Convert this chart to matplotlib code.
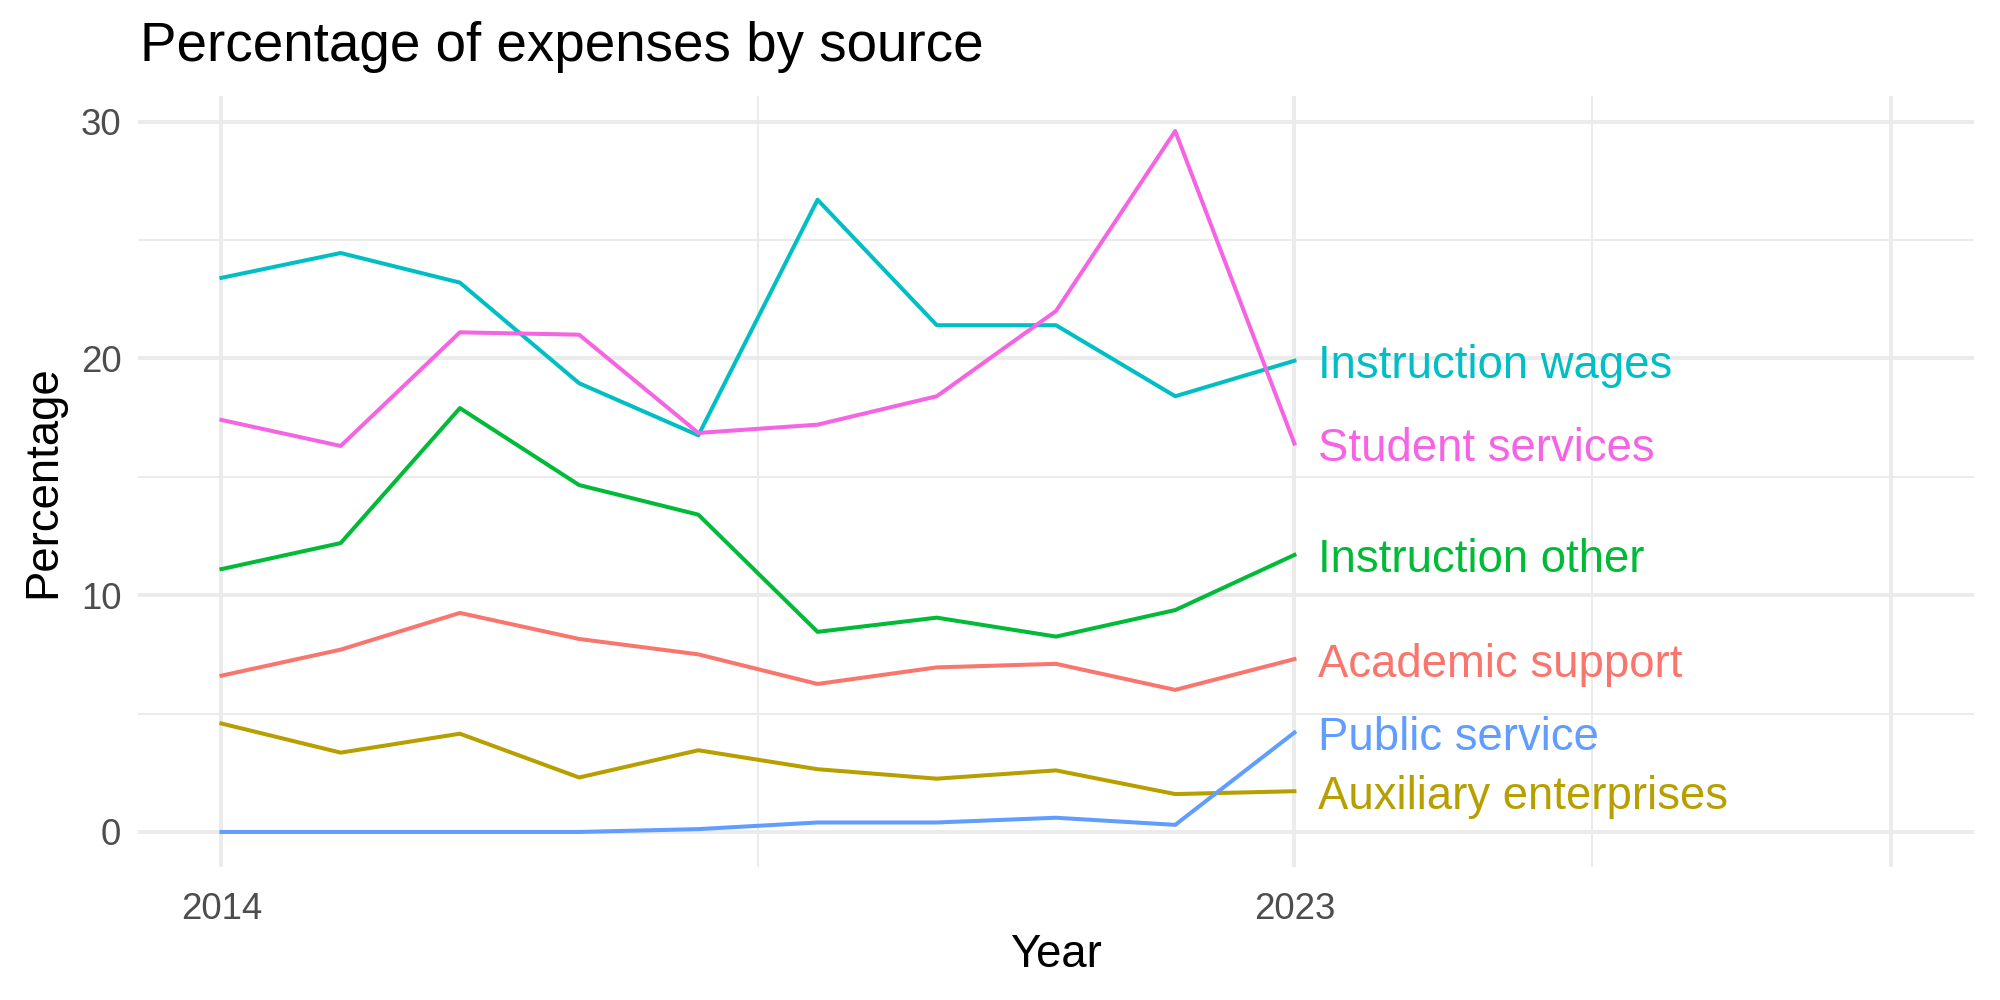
import matplotlib
matplotlib.use("Agg")
import matplotlib.pyplot as plt

plt.rcParams['font.family'] = ['Liberation Sans', 'DejaVu Sans']

# data
years = [2014, 2015, 2016, 2017, 2018, 2019, 2020, 2021, 2022, 2023]
sources = ['Academic support', 'Auxiliary enterprises', 'Instruction other',
           'Instruction wages', 'Public service', 'Student services']
academic_support = [6.6, 7.7, 9.25, 8.15, 7.5, 6.25, 6.95, 7.1, 6.0, 7.3]
auxiliary_enterprises = [4.58, 3.35, 4.15, 2.3, 3.45, 2.65, 2.25, 2.6, 1.6, 1.72]
instruction_other = [11.1, 12.2, 17.9, 14.65, 13.4, 8.45, 9.05, 8.25, 9.37, 11.7]
instruction_wages = [23.4, 24.45, 23.2, 18.95, 16.75, 26.7, 21.4, 21.4, 18.4, 19.9]
public_service = [0.0, 0.0, 0.0, 0.0, 0.12, 0.4, 0.4, 0.6, 0.3, 4.2]
student_services = [17.4, 16.3, 21.1, 21.0, 16.85, 17.2, 18.4, 22.0, 29.6, 16.4]
series = [academic_support, auxiliary_enterprises, instruction_other,
          instruction_wages, public_service, student_services]
colors = ['#F8766D', '#B79F00', '#00BA38', '#00BFC4', '#619CFF', '#F564E3']

x_breaks = [2014, 2023, 2028]
x_labels = ['2014', '2023', '']
x_minor = [2018.5, 2025.5]
y_breaks = [0, 10, 20, 30]
y_minor = [5, 15, 25]

fig = plt.figure(figsize=(10, 5), dpi=200)
ax = fig.add_axes([0.069, 0.133, 0.918, 0.771])

grid = '#EBEBEB'
for v in x_breaks:
    ax.axvline(v, color=grid, lw=1.4, zorder=0)
for v in x_minor:
    ax.axvline(v, color=grid, lw=0.7, zorder=0)
for v in y_breaks:
    ax.axhline(v, color=grid, lw=1.4, zorder=0)
for v in y_minor:
    ax.axhline(v, color=grid, lw=0.7, zorder=0)

for name, vals, c in zip(sources, series, colors):
    ax.plot(years, vals, color=c, lw=1.45, zorder=2)
    ax.annotate(name, (years[-1] + 0.2, vals[-1]), xytext=(0, -2),
                textcoords='offset points', color=c, fontsize=16.4,
                ha='left', va='center', zorder=3)

ax.set_xlim(2013.3, 2028.7)
ax.set_ylim(-1.48, 31.08)
ax.set_xticks(x_breaks)
ax.set_xticklabels(x_labels)
ax.set_yticks(y_breaks)
ax.tick_params(length=0, labelsize=13.2, labelcolor='#4D4D4D')
ax.tick_params(axis='x', pad=9)
ax.tick_params(axis='y', pad=6)
for s in ax.spines.values():
    s.set_visible(False)

ax.set_xlabel('Year', fontsize=16.4, labelpad=2)
ax.set_ylabel('Percentage', fontsize=16.4, labelpad=5.5)
fig.text(0.070, 0.939, 'Percentage of expenses by source', fontsize=19.7,
         ha='left', va='baseline')

fig.savefig('out.png', dpi=200)
